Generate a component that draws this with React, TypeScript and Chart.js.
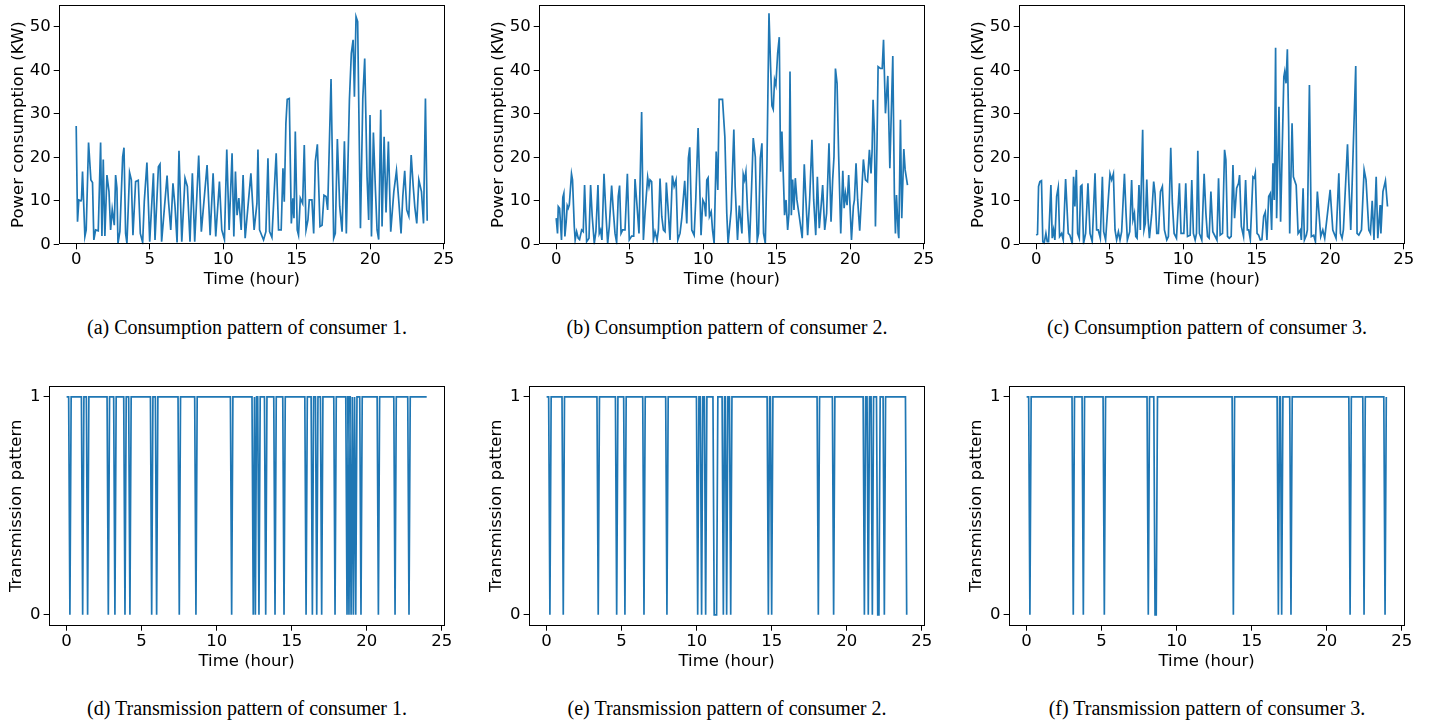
import React, { useEffect, useRef } from "react";
import { Chart, registerables } from "chart.js";

Chart.register(...registerables);

// ---------- data ----------
const HOUR_TICKS = [0, 5, 10, 15, 20, 25];
const KW_TICKS = [0, 10, 20, 30, 40, 50];
const TX_TICKS = [0, 1];
const DAY_END = 24;

// [hour, kW] readings
const consumer1: number[][] = [
  [0, 27.2], [0.09, 5.2], [0.18, 10.2], [0.32, 10.0], [0.36, 10.3], [0.43, 16.7], [0.59, 1.8], [0.68, 3.3], [0.84, 23.4], [1.0, 14.8],
  [1.11, 14.2], [1.2, 1.0], [1.32, 3.3], [1.5, 3.1], [1.66, 23.4], [1.75, 1.9], [1.84, 19.5], [1.95, 1.9], [2.09, 15.9], [2.23, 12.1],
  [2.34, 3.3], [2.45, 8.0], [2.59, 4.4], [2.68, 15.9], [2.77, 12.9], [2.84, 0.2], [2.97, 2.9], [3.16, 20.1], [3.25, 22.2], [3.36, 2.5],
  [3.45, 0.2], [3.63, 16.5], [3.75, 14.8], [3.86, 2.1], [4.04, 14.4], [4.22, 14.7], [4.36, 2.5], [4.52, 0.4], [4.63, 9.8], [4.81, 18.8],
  [5.0, 0.6], [5.25, 16.3], [5.36, 1.0], [5.59, 17.8], [5.7, 18.4], [5.81, 0.6], [6.18, 15.8], [6.27, 10.2], [6.43, 3.3], [6.58, 14.0],
  [6.72, 8.7], [6.86, 0.4], [6.99, 21.5], [7.18, 0.6], [7.4, 15.2], [7.56, 13.3], [7.74, 0.6], [7.9, 16.3], [8.06, 0.6], [8.33, 20.4],
  [8.51, 2.9], [8.9, 18.2], [9.11, 2.1], [9.31, 16.3], [9.49, 1.8], [9.74, 14.4], [9.9, 3.3], [10.08, 1.1], [10.24, 21.8], [10.4, 3.3],
  [10.6, 20.9], [10.72, 1.8], [10.83, 16.7], [10.94, 6.7], [11.06, 10.6], [11.22, 3.3], [11.35, 15.9], [11.49, 1.4], [11.88, 16.3], [12.1, 3.3],
  [12.29, 9.4], [12.36, 21.8], [12.47, 3.3], [12.74, 1.0], [12.9, 2.9], [13.04, 19.8], [13.15, 2.9], [13.31, 1.6], [13.54, 17.1], [13.6, 20.9],
  [13.76, 3.3], [13.94, 3.3], [14.06, 17.5], [14.15, 9.8], [14.26, 27.8], [14.35, 33.3], [14.49, 33.5], [14.63, 4.8], [14.74, 10.6], [14.81, 6.0],
  [14.9, 25.9], [15.03, 3.3], [15.12, 2.1], [15.24, 10.6], [15.4, 9.4], [15.51, 22.8], [15.63, 3.3], [15.76, 5.6], [15.85, 10.2], [16.03, 10.2],
  [16.15, 2.5], [16.26, 19.0], [16.4, 23.0], [16.58, 4.1], [16.72, 4.4], [16.85, 11.3], [16.99, 11.0], [17.1, 7.9], [17.33, 38.0], [17.51, 1.4],
  [17.62, 2.5], [17.76, 24.2], [17.92, 8.7], [18.08, 2.9], [18.24, 23.7], [18.37, 2.5], [18.58, 33.2], [18.71, 43.9], [18.83, 47.0], [18.92, 33.9],
  [19.03, 52.3], [19.14, 51.2], [19.33, 3.7], [19.49, 33.5], [19.62, 42.7], [19.78, 15.5], [19.89, 5.6], [19.98, 29.7], [20.08, 1.8], [20.21, 25.7],
  [20.35, 12.5], [20.46, 3.3], [20.57, 1.1], [20.71, 30.9], [20.8, 4.1], [20.94, 24.7], [21.07, 7.3], [21.23, 23.6], [21.39, 2.9], [21.6, 12.1],
  [21.78, 16.9], [21.94, 9.8], [22.09, 2.5], [22.21, 11.0], [22.34, 16.9], [22.48, 7.9], [22.62, 6.5], [22.78, 20.5], [22.92, 13.3], [23.03, 8.5],
  [23.16, 4.8], [23.3, 14.8], [23.48, 12.1], [23.62, 4.8], [23.75, 33.5], [23.87, 5.4],
];

const consumer2: number[][] = [
  [0, 6.0], [0.09, 2.5], [0.14, 8.7], [0.23, 8.3], [0.36, 1.0], [0.45, 10.8], [0.52, 11.7], [0.59, 1.8], [0.68, 5.2], [0.75, 8.9],
  [0.82, 8.3], [0.89, 9.0], [1.04, 16.2], [1.11, 14.8], [1.23, 4.1], [1.29, 1.0], [1.39, 2.9], [1.5, 1.4], [1.59, 1.1], [1.73, 3.3],
  [1.84, 2.9], [1.93, 13.6], [2.07, 0.6], [2.23, 1.4], [2.34, 13.6], [2.45, 6.4], [2.59, 0.2], [2.7, 2.9], [2.84, 13.6], [2.93, 2.5],
  [3.02, 3.3], [3.11, 1.0], [3.25, 16.2], [3.38, 7.1], [3.5, 0.2], [3.61, 4.1], [3.77, 13.5], [3.88, 7.9], [4.0, 2.5], [4.11, 0.4],
  [4.22, 11.0], [4.31, 13.5], [4.41, 2.5], [4.52, 3.3], [4.68, 3.3], [4.84, 16.2], [4.97, 1.0], [5.13, 1.9], [5.27, 1.9], [5.36, 15.0],
  [5.5, 8.7], [5.63, 2.5], [5.81, 30.4], [5.93, 1.0], [6.04, 7.1], [6.22, 15.4], [6.31, 13.3], [6.38, 14.8], [6.49, 14.4], [6.61, 1.0],
  [6.72, 2.9], [6.86, 1.0], [6.95, 3.3], [7.06, 15.1], [7.18, 6.4], [7.29, 3.3], [7.4, 2.9], [7.49, 14.2], [7.63, 7.1], [7.74, 1.0],
  [7.9, 15.8], [8.02, 13.3], [8.15, 14.8], [8.27, 1.0], [8.42, 2.5], [8.54, 6.0], [8.74, 14.6], [8.88, 4.8], [8.99, 19.8], [9.08, 22.3],
  [9.22, 3.3], [9.38, 2.1], [9.49, 10.2], [9.65, 26.7], [9.76, 13.3], [9.85, 2.1], [9.97, 10.2], [10.08, 9.4], [10.17, 6.4], [10.24, 14.8],
  [10.33, 15.3], [10.42, 6.4], [10.54, 7.5], [10.63, 3.3], [10.74, 0.2], [10.88, 21.3], [10.99, 12.5], [11.08, 33.3], [11.31, 33.3], [11.47, 24.7],
  [11.6, 7.1], [11.69, 0.2], [11.9, 7.9], [12.08, 26.4], [12.17, 13.3], [12.33, 1.0], [12.45, 8.9], [12.63, 2.5], [12.72, 16.1], [12.81, 14.8],
  [12.9, 16.7], [13.01, 7.9], [13.15, 0.2], [13.29, 13.3], [13.4, 24.4], [13.54, 20.1], [13.67, 1.0], [13.76, 2.5], [13.88, 19.8], [13.99, 23.2],
  [14.1, 2.5], [14.22, 0.2], [14.33, 17.8], [14.47, 53.1], [14.58, 40.8], [14.67, 31.8], [14.76, 31.0], [14.85, 37.8], [14.94, 36.6], [15.06, 43.9],
  [15.17, 47.6], [15.26, 16.7], [15.35, 25.9], [15.44, 16.3], [15.53, 6.7], [15.63, 10.2], [15.74, 3.3], [15.83, 7.1], [15.9, 39.7], [15.99, 6.7],
  [16.08, 14.9], [16.17, 7.9], [16.26, 15.2], [16.37, 10.2], [16.53, 6.4], [16.73, 1.4], [16.87, 18.4], [16.96, 11.7], [17.1, 2.1], [17.24, 10.6],
  [17.39, 24.0], [17.51, 10.2], [17.65, 2.1], [17.76, 15.5], [17.89, 3.7], [18.03, 9.4], [18.12, 13.6], [18.26, 3.3], [18.39, 7.1], [18.55, 23.2],
  [18.69, 5.2], [18.8, 14.8], [18.89, 20.1], [18.99, 40.4], [19.1, 37.0], [19.21, 20.1], [19.35, 2.5], [19.49, 16.9], [19.58, 8.3], [19.67, 11.7],
  [19.78, 9.0], [19.89, 15.9], [20.08, 1.0], [20.21, 8.7], [20.28, 10.2], [20.39, 18.6], [20.5, 10.2], [20.64, 3.1], [20.78, 12.1], [20.89, 19.5],
  [21.03, 14.8], [21.17, 14.4], [21.3, 21.7], [21.41, 16.3], [21.48, 21.3], [21.55, 33.2], [21.64, 25.5], [21.71, 4.1], [21.82, 24.0], [21.89, 40.8],
  [22.05, 40.4], [22.17, 40.4], [22.26, 47.0], [22.39, 30.1], [22.55, 38.7], [22.69, 17.5], [22.89, 43.3], [23.0, 11.0], [23.07, 2.5], [23.14, 11.3],
  [23.26, 2.5], [23.3, 1.4], [23.41, 28.6], [23.5, 6.0], [23.64, 21.9], [23.73, 17.1], [23.89, 13.6],
];

const consumer3: number[][] = [
  [0, 2.1], [0.09, 2.3], [0.16, 13.3], [0.25, 14.4], [0.36, 14.6], [0.45, 0.6], [0.54, 0.2], [0.66, 2.5], [0.75, 0.6], [0.84, 0.6],
  [1.0, 13.6], [1.09, 1.4], [1.18, 3.3], [1.27, 1.0], [1.39, 11.0], [1.5, 13.1], [1.59, 1.8], [1.73, 2.5], [1.84, 1.0], [2.0, 15.0],
  [2.18, 2.5], [2.29, 2.1], [2.45, 0.2], [2.54, 15.5], [2.63, 8.7], [2.73, 17.1], [2.82, 2.5], [2.93, 1.4], [3.02, 13.3], [3.11, 13.6],
  [3.22, 0.2], [3.36, 2.5], [3.52, 14.0], [3.66, 2.5], [3.81, 0.6], [4.0, 16.3], [4.11, 3.3], [4.22, 3.3], [4.36, 1.4], [4.5, 15.5],
  [4.59, 2.9], [4.72, 1.0], [4.9, 10.2], [5.02, 16.2], [5.13, 14.8], [5.25, 16.2], [5.36, 3.3], [5.47, 1.0], [5.59, 2.9], [5.7, 1.0],
  [5.81, 2.9], [6.0, 16.2], [6.11, 7.1], [6.2, 1.0], [6.36, 2.9], [6.49, 14.8], [6.58, 5.6], [6.68, 7.1], [6.77, 1.8], [6.86, 1.4],
  [6.99, 13.6], [7.08, 3.3], [7.15, 13.9], [7.24, 26.3], [7.33, 3.3], [7.42, 4.8], [7.52, 14.9], [7.61, 5.6], [7.7, 1.4], [7.86, 7.1],
  [7.99, 14.4], [8.08, 11.7], [8.2, 2.5], [8.31, 2.5], [8.45, 12.1], [8.58, 13.3], [8.72, 3.3], [8.88, 1.0], [8.99, 1.8], [9.15, 22.2],
  [9.26, 9.4], [9.38, 2.5], [9.54, 1.4], [9.74, 14.0], [9.85, 2.5], [10.04, 2.5], [10.17, 14.0], [10.29, 1.8], [10.47, 2.1], [10.58, 14.8],
  [10.69, 2.5], [10.81, 1.0], [10.9, 2.5], [10.99, 21.5], [11.1, 2.5], [11.26, 1.0], [11.42, 16.2], [11.54, 7.1], [11.65, 1.8], [11.76, 1.4],
  [11.88, 12.1], [12.01, 2.9], [12.29, 1.0], [12.4, 15.2], [12.51, 2.1], [12.67, 2.5], [12.81, 21.7], [12.9, 19.4], [13.01, 1.8], [13.13, 1.4],
  [13.26, 1.8], [13.38, 18.2], [13.49, 6.0], [13.63, 12.9], [13.76, 14.0], [13.83, 15.9], [13.95, 4.1], [14.1, 1.8], [14.24, 14.8], [14.36, 3.3],
  [14.45, 3.3], [14.56, 1.1], [14.74, 15.5], [14.83, 15.2], [14.9, 16.3], [15.02, 2.5], [15.13, 2.1], [15.24, 1.0], [15.35, 1.1], [15.47, 6.4],
  [15.58, 7.4], [15.69, 1.0], [15.81, 11.0], [15.92, 11.7], [16.01, 3.3], [16.1, 18.6], [16.19, 10.2], [16.28, 45.2], [16.35, 6.0], [16.51, 31.6],
  [16.62, 5.2], [16.84, 38.5], [16.9, 39.7], [16.99, 37.0], [17.08, 44.8], [17.17, 27.0], [17.24, 2.5], [17.4, 27.8], [17.49, 15.5], [17.68, 13.6],
  [17.81, 2.5], [17.96, 3.3], [18.03, 1.0], [18.15, 12.9], [18.24, 1.0], [18.37, 2.1], [18.44, 3.3], [18.58, 36.6], [18.71, 1.8], [18.87, 2.1],
  [18.99, 0.6], [19.12, 12.1], [19.35, 1.8], [19.49, 3.3], [19.62, 1.4], [19.99, 12.5], [20.17, 3.3], [20.39, 1.4], [20.58, 16.3], [20.69, 2.5],
  [20.8, 1.4], [20.89, 3.3], [21.17, 23.0], [21.26, 14.0], [21.39, 3.3], [21.73, 41.0], [21.82, 2.5], [21.94, 2.1], [22.12, 3.3], [22.3, 17.1],
  [22.43, 14.8], [22.62, 3.3], [22.73, 2.5], [22.85, 10.0], [22.97, 1.0], [23.12, 15.5], [23.23, 1.4], [23.39, 9.0], [23.44, 2.5], [23.58, 12.1],
  [23.75, 14.6], [23.89, 8.7],
];

// hours at which transmission is off (value 0); all other 5-min samples are 1
const tx1Off = [0.22, 1.07, 1.4, 2.78, 3.22, 3.89, 4.22, 5.67, 6.0, 7.51, 8.62, 11.0, 12.44, 12.58, 12.82, 13.27, 13.89, 14.49,
  15.96, 16.38, 16.67, 17.0, 17.89, 18.69, 18.82, 18.96, 19.11, 19.27, 19.62, 20.78, 21.89, 22.82];
const tx2Off = [0.22, 1.11, 3.44, 4.67, 5.22, 6.49, 8.02, 10.07, 10.33, 10.6, 11.17, 11.25, 11.33, 11.78, 12.0, 12.27, 14.78, 15.0,
  18.11, 19.13, 21.18, 21.44, 21.71, 22.07, 22.15, 22.51, 24.0];
const tx3Off = [0.22, 3.11, 3.78, 5.18, 8.11, 8.56, 8.64, 13.78, 16.78, 17.0, 17.62, 21.56, 22.49, 23.89];

const SAMPLE = 1 / 12; // 5 minutes

// ---------- helpers ----------
const toPoints = (rows: number[][]) => rows.map(([x, y]) => ({ x, y }));

function txPoints(off: number[]) {
  const pts: { x: number; y: number }[] = [];
  if (off[0] > 0.001) pts.push({ x: 0, y: 1 });
  off.forEach((t, i) => {
    const prev = off[i - 1];
    const next = off[i + 1];
    if (prev === undefined || t - prev > SAMPLE * 1.3) {
      if (t > 0.001) pts.push({ x: t - SAMPLE, y: 1 });
    }
    pts.push({ x: t, y: 0 });
    if (next === undefined || next - t > SAMPLE * 1.3) {
      if (t < DAY_END - 0.01) pts.push({ x: Math.min(t + SAMPLE, DAY_END), y: 1 });
    }
  });
  const last = off[off.length - 1];
  if (last < DAY_END - 0.01) pts.push({ x: DAY_END, y: 1 });
  return pts;
}

const FONT = "'DejaVu Sans', sans-serif";
const FS = 16.5;

const framePlugin = {
  id: "frame",
  afterDraw(chart: any) {
    const { ctx, chartArea: a } = chart;
    ctx.save();
    ctx.strokeStyle = "#000";
    ctx.lineWidth = 1;
    ctx.strokeRect(Math.round(a.left) + 0.5, Math.round(a.top) + 0.5, Math.round(a.right - a.left) - 1, Math.round(a.bottom - a.top) - 1);
    ctx.restore();
  },
};

type PanelProps = {
  left: number;
  top: number;
  width: number;
  height: number;
  yAxisWidth: number;
  xAxisHeight: number;
  padTop: number;
  padRight: number;
  xMin: number;
  xMax: number;
  yMin: number;
  yMax: number;
  yTicks: number[];
  yTitle: string;
  yTitlePad: number;
  xTitlePad: number;
  points: { x: number; y: number }[];
};

function Panel(p: PanelProps) {
  const ref = useRef<HTMLCanvasElement>(null);
  useEffect(() => {
    const chart = new Chart(ref.current as HTMLCanvasElement, {
      type: "line",
      data: {
        datasets: [
          {
            data: p.points,
            borderColor: "#1f77b4",
            borderWidth: 1.7,
            pointRadius: 0,
            pointHoverRadius: 0,
            pointBorderWidth: 0,
            tension: 0,
            fill: false,
          },
        ],
      },
      options: {
        animation: false,
        responsive: false,
        maintainAspectRatio: false,
        events: [],
        layout: { autoPadding: false, padding: { top: p.padTop, right: p.padRight, left: 0, bottom: 0 } },
        plugins: { legend: { display: false }, tooltip: { enabled: false } },
        scales: {
          x: {
            type: "linear",
            min: p.xMin,
            max: p.xMax,
            afterBuildTicks: (s: any) => {
              s.ticks = HOUR_TICKS.map((v) => ({ value: v }));
            },
            afterFit: (s: any) => {
              s.height = p.xAxisHeight;
              s.paddingLeft = 0;
              s.paddingRight = 0;
              s.paddingTop = 0;
              s.paddingBottom = 0;
            },
            grid: { drawOnChartArea: false, drawTicks: true, tickLength: 5, tickColor: "#000", tickWidth: 1 },
            border: { display: false },
            ticks: {
              color: "#000",
              font: { family: FONT, size: FS },
              padding: 1,
              maxRotation: 0,
              autoSkip: false,
              callback: (v: any) => String(v),
            },
            title: {
              display: true,
              text: "Time (hour)",
              color: "#000",
              font: { family: FONT, size: FS },
              padding: { top: 0, bottom: p.xTitlePad },
            },
          },
          y: {
            type: "linear",
            min: p.yMin,
            max: p.yMax,
            afterBuildTicks: (s: any) => {
              s.ticks = p.yTicks.map((v) => ({ value: v }));
            },
            afterFit: (s: any) => {
              s.width = p.yAxisWidth;
              s.paddingLeft = 0;
              s.paddingRight = 0;
              s.paddingTop = 0;
              s.paddingBottom = 0;
            },
            grid: { drawOnChartArea: false, drawTicks: true, tickLength: 5, tickColor: "#000", tickWidth: 1 },
            border: { display: false },
            ticks: {
              color: "#000",
              font: { family: FONT, size: FS },
              padding: 3,
              autoSkip: false,
              callback: (v: any) => String(v),
            },
            title: {
              display: true,
              text: p.yTitle,
              color: "#000",
              font: { family: FONT, size: FS },
              padding: { top: p.yTitlePad, bottom: 0 },
            },
          },
        },
      },
      plugins: [framePlugin],
    });
    return () => chart.destroy();
  }, []);
  return (
    <canvas
      ref={ref}
      width={p.width}
      height={p.height}
      style={{ position: "absolute", left: p.left, top: p.top, width: p.width, height: p.height }}
    />
  );
}

const topCaptions = [
  "(a) Consumption pattern of consumer 1.",
  "(b) Consumption pattern of consumer 2.",
  "(c) Consumption pattern of consumer 3.",
];
const bottomCaptions = [
  "(d) Transmission pattern of consumer 1.",
  "(e) Transmission pattern of consumer 2.",
  "(f) Transmission pattern of consumer 3.",
];

const COL_OFFSETS = [0, 480, 960];
const consumption = [consumer1, consumer2, consumer3];
const transmission = [tx1Off, tx2Off, tx3Off];

const captionStyle = (cx: number, cy: number): React.CSSProperties => ({
  position: "absolute",
  left: cx,
  top: cy - 12,
  transform: "translateX(-50%)",
  whiteSpace: "nowrap",
  fontFamily: "'Liberation Serif', 'Times New Roman', serif",
  fontSize: 20,
  lineHeight: "24px",
  color: "#000",
});

export default function App() {
  return (
    <div style={{ position: "absolute", left: 0, top: 0, width: 1442, height: 724, background: "#fff" }}>
      {COL_OFFSETS.map((off, i) => (
        <Panel
          key={"top" + i}
          left={off}
          top={0}
          width={460}
          height={300}
          yAxisWidth={58.7}
          xAxisHeight={55.7}
          padTop={5}
          padRight={15}
          xMin={-1.19}
          xMax={25.08}
          yMin={0}
          yMax={55}
          yTicks={KW_TICKS}
          yTitle="Power consumption (KW)"
          yTitlePad={8.4}
          xTitlePad={10}
          points={toPoints(consumption[i])}
        />
      ))}
      {COL_OFFSETS.map((off, i) => (
        <Panel
          key={"bot" + i}
          left={off}
          top={380}
          width={460}
          height={300}
          yAxisWidth={48.6}
          xAxisHeight={54.3}
          padTop={6}
          padRight={15.3}
          xMin={-1.2}
          xMax={25.2}
          yMin={-0.05}
          yMax={1.05}
          yTicks={TX_TICKS}
          yTitle="Transmission pattern"
          yTitlePad={6.8}
          xTitlePad={8.7}
          points={txPoints(transmission[i])}
        />
      ))}
      {topCaptions.map((c, i) => (
        <div key={"tc" + i} style={captionStyle(247 + COL_OFFSETS[i], 327)}>
          {c}
        </div>
      ))}
      {bottomCaptions.map((c, i) => (
        <div key={"bc" + i} style={captionStyle(247 + COL_OFFSETS[i], 708)}>
          {c}
        </div>
      ))}
    </div>
  );
}
